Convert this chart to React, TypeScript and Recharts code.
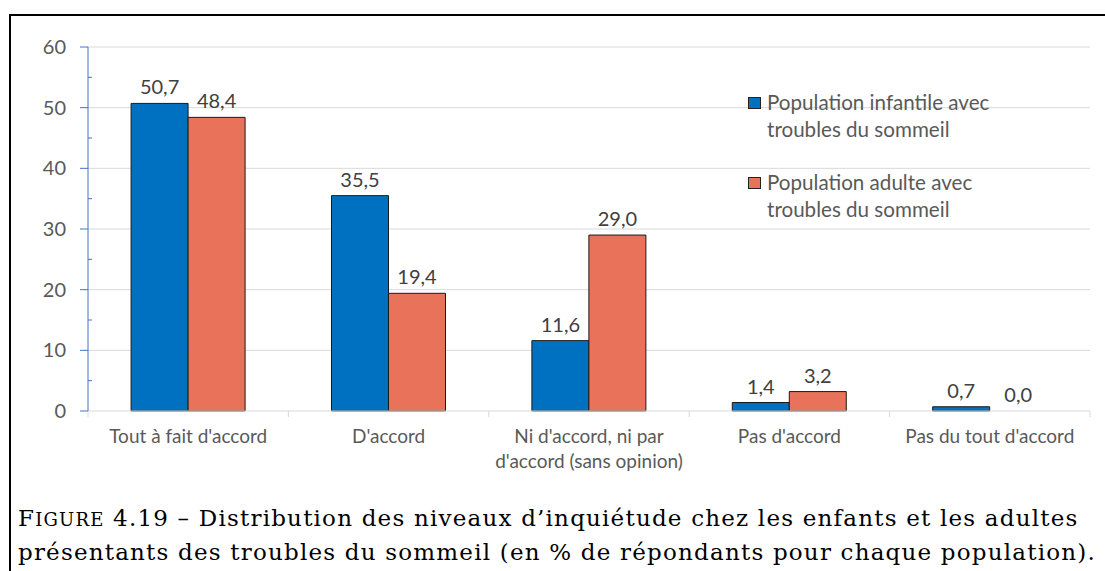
import React from "react";
import { BarChart, Bar, XAxis, YAxis, CartesianGrid, LabelList, Cell } from "recharts";

const categories = [
  "Tout à fait d'accord",
  "D'accord",
  "Ni d'accord, ni par\nd'accord (sans opinion)",
  "Pas d'accord",
  "Pas du tout d'accord",
];
const childValues = [50.7, 35.5, 11.6, 1.4, 0.7];
const adultValues = [48.4, 19.4, 29.0, 3.2, 0.0];
const seriesNames = [
  "Population infantile avec\ntroubles du sommeil",
  "Population adulte avec\ntroubles du sommeil",
];
const seriesColors = ["#0070C0", "#E8735A"];
const yTicks = [0, 5, 10, 15, 20, 25, 30, 35, 40, 45, 50, 55, 60];
const yGridValues = [10, 20, 30, 40, 50, 60];
const captionPrefix = ["F", "IGURE", "4.19 –"];
const captionLines = [
  "Distribution des niveaux d’inquiétude chez les enfants et les adultes",
  "présentants des troubles du sommeil (en % de répondants pour chaque population).",
];

const data = categories.map((c, i) => ({
  category: c,
  child: childValues[i],
  adult: adultValues[i],
}));

const FONT = "Lato, 'Liberation Sans', sans-serif";
const BAR_STROKE = "#1a1a1a";

const fmt = (v: any) => Number(v).toFixed(1).replace(".", ",");
const zeroMin = (v: any) => (Number(v) === 0 ? 0.01 : 0);

const YTick = (props: any) => {
  const { x, y, payload } = props;
  const v = payload.value;
  const major = v % 10 === 0;
  if (major) {
    return (
      <g>
        <line x1={x - 8} x2={x} y1={y} y2={y} stroke="#4472C4" strokeWidth={1} />
        <text x={x - 22} y={y} dy={7} textAnchor="end" fill="#595959" fontSize={20} fontFamily={FONT}>
          {v}
        </text>
      </g>
    );
  }
  return <line x1={x} x2={x + 4} y1={y} y2={y} stroke="#4472C4" strokeWidth={1} />;
};

const XTick = (props: any) => {
  const { x, y, payload, index } = props;
  const off = payload.offset || 0;
  const lines = String(payload.value).split("\n");
  return (
    <g>
      <line x1={x - off} x2={x - off} y1={y} y2={y + 6} stroke="#D9D9D9" strokeWidth={1} />
      {index === categories.length - 1 && (
        <line x1={x + off} x2={x + off} y1={y} y2={y + 6} stroke="#D9D9D9" strokeWidth={1} />
      )}
      <text x={x} y={y + 32} textAnchor="middle" fill="#595959" fontSize={19} fontFamily={FONT}>
        {lines.map((l, i) => (
          <tspan key={i} x={x} dy={i === 0 ? 0 : 25}>
            {l}
          </tspan>
        ))}
      </text>
    </g>
  );
};

const LegendBox = () => (
  <div
    style={{
      position: "absolute",
      left: 748,
      top: 89,
      fontFamily: FONT,
      fontSize: 20.6,
      color: "#595959",
    }}
  >
    {seriesNames.map((name, i) => (
      <div key={i} style={{ display: "flex", alignItems: "flex-start", marginBottom: i === 0 ? 26 : 0 }}>
        <div
          style={{
            width: 13,
            height: 12,
            background: seriesColors[i],
            border: "1px solid #222",
            boxSizing: "border-box",
            marginTop: 8,
            marginRight: 6,
            flexShrink: 0,
          }}
        />
        <div style={{ whiteSpace: "pre-line", lineHeight: "27px" }}>{name}</div>
      </div>
    ))}
  </div>
);

export default function App() {
  return (
    <div style={{ position: "fixed", left: 0, top: 0, width: 1105, height: 571, background: "#fff", overflow: "hidden" }}>
      <div
        style={{
          position: "absolute",
          left: 9,
          top: 14,
          width: 1100,
          height: 560,
          borderTop: "2px solid #000",
          borderLeft: "2px solid #000",
        }}
      />
      <div style={{ position: "absolute", left: 0, top: 0 }}>
        <BarChart
          width={1105}
          height={480}
          data={data}
          margin={{ top: 47, right: 15, bottom: 0, left: 0 }}
          barCategoryGap="21.5%"
          barGap={0}
        >
          <CartesianGrid vertical={false} stroke="#D9D9D9" horizontalValues={yGridValues} />
          <XAxis
            dataKey="category"
            interval={0}
            height={69}
            tickSize={0}
            tickMargin={0}
            tickLine={false}
            axisLine={{ stroke: "#D9D9D9" }}
            tick={<XTick />}
          />
          <YAxis
            width={88}
            domain={[0, 60]}
            ticks={yTicks}
            interval={0}
            tickSize={0}
            tickMargin={0}
            tickLine={false}
            axisLine={{ stroke: "#4472C4" }}
            tick={<YTick />}
          />
          <Bar dataKey="child" name={seriesNames[0]} fill={seriesColors[0]} stroke={BAR_STROKE} strokeWidth={1} minPointSize={zeroMin} isAnimationActive={false}>
            {childValues.map((v, i) => (
              <Cell key={i} stroke={v === 0 ? "none" : BAR_STROKE} />
            ))}
            <LabelList dataKey="child" position="top" offset={9} formatter={fmt} fill="#404040" fontSize={20} fontFamily={FONT} />
          </Bar>
          <Bar dataKey="adult" name={seriesNames[1]} fill={seriesColors[1]} stroke={BAR_STROKE} strokeWidth={1} minPointSize={zeroMin} isAnimationActive={false}>
            {adultValues.map((v, i) => (
              <Cell key={i} stroke={v === 0 ? "none" : BAR_STROKE} />
            ))}
            <LabelList dataKey="adult" position="top" offset={9} formatter={fmt} fill="#404040" fontSize={20} fontFamily={FONT} />
          </Bar>
        </BarChart>
      </div>
      <LegendBox />
      <div
        style={{
          position: "absolute",
          left: 18,
          top: 502,
          fontFamily: "'DejaVu Serif', serif",
          fontSize: 23,
          lineHeight: "33px",
          letterSpacing: "1.2px",
          color: "#000",
          whiteSpace: "nowrap",
        }}
      >
        <div>
          <span>{captionPrefix[0]}</span>
          <span style={{ fontSize: 18 }}>{captionPrefix[1]}</span> {captionPrefix[2]} {captionLines[0]}
        </div>
        <div>{captionLines[1]}</div>
      </div>
    </div>
  );
}
